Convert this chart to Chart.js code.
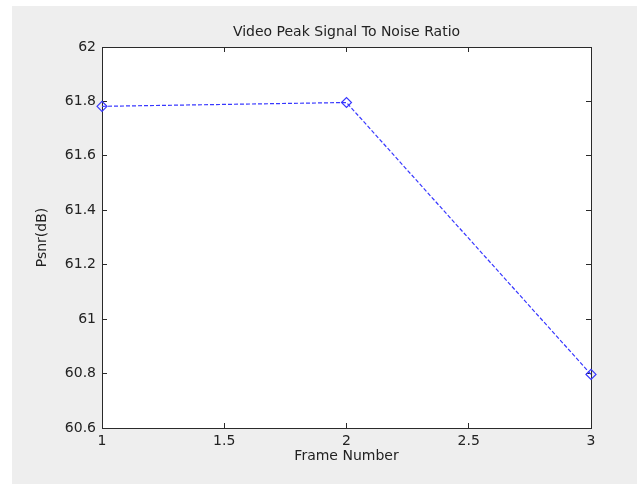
<!DOCTYPE html>
<html>
<head>
<meta charset="utf-8">
<script src="https://cdn.jsdelivr.net/npm/chart.js@4/dist/chart.umd.min.js"></script>
<style>
  html, body { margin: 0; padding: 0; background: #fff; }
  #wrap { position: relative; width: 637px; height: 484px; }
  #bg { position: absolute; left: 12px; top: 6px; width: 625px; height: 478px; background: #eeeeee; }
  #psnrChart { position: absolute; left: 0; top: 0; }
</style>
</head>
<body>
<div id="wrap">
  <div id="bg"></div>
  <canvas id="psnrChart" width="637" height="484"></canvas>
</div>
<script>
// dados
const frames = [1, 2, 3];
const psnr = [61.782, 61.796, 60.797];
const xTicks = { min: 1, max: 3, step: 0.5 };
const yTicks = { min: 60.6, max: 62, step: 0.2 };

const fonte = { family: '"DejaVu Sans", sans-serif', size: 14 };
const corTexto = '#222';
const corEixo = '#2a2a2a';
const azul = '#3838ff';

// fundo branco só na área do gráfico
const fundoArea = {
    id: 'fundoArea',
    beforeDraw(chart) {
        const { ctx, chartArea: a } = chart;
        ctx.save();
        ctx.fillStyle = '#ffffff';
        ctx.fillRect(a.left, a.top, a.right - a.left, a.bottom - a.top);
        ctx.restore();
    }
};

const fmt = v => String(+Number(v).toFixed(2));

const eixo = (pos, lim, extra) => Object.assign({
    type: 'linear',
    position: pos,
    min: lim.min,
    max: lim.max,
    grid: { drawOnChartArea: false, drawTicks: true, tickLength: -5, color: corEixo, lineWidth: 1 },
    border: { display: true, color: corEixo, width: 1 },
    ticks: { stepSize: lim.step, color: corTexto, font: fonte, callback: fmt, maxRotation: 0, autoSkip: false }
}, extra);

const ctx = document.getElementById('psnrChart').getContext('2d');
const grafico = new Chart(ctx, {
    type: 'line',
    data: {
        datasets: [{
            label: 'PSNR',
            data: frames.map((f, i) => ({ x: f, y: psnr[i] })),
            borderColor: azul,
            borderWidth: 1.2,
            borderDash: [4, 2],
            pointStyle: 'rectRot',
            pointRadius: 5,
            pointBorderColor: azul,
            pointBackgroundColor: 'rgba(0,0,0,0)',
            pointBorderWidth: 1.2,
            tension: 0,
            clip: false
        }]
    },
    options: {
        responsive: false,
        animation: false,
        layout: { padding: 0 },
        plugins: {
            legend: { display: false },
            tooltip: { enabled: false },
            title: { display: false }
        },
        scales: {
            x: eixo('bottom', xTicks, {
                afterFit: s => { s.height = 56; },
                ticks: { stepSize: xTicks.step, color: corTexto, font: fonte, callback: fmt, maxRotation: 0, autoSkip: false, padding: 10 },
                title: { display: true, text: 'Frame Number', color: corTexto, font: fonte, padding: { top: 0, bottom: 19 } }
            }),
            y: eixo('left', yTicks, {
                afterFit: s => { s.width = 102; },
                ticks: { stepSize: yTicks.step, color: corTexto, font: fonte, callback: fmt, autoSkip: false, padding: 11 },
                title: { display: true, text: 'Psnr(dB)', color: corTexto, font: fonte, padding: { top: 34, bottom: 0 } }
            }),
            x2: eixo('top', xTicks, {
                afterFit: s => { s.height = 47; },
                ticks: { stepSize: xTicks.step, display: false },
                title: { display: true, text: 'Video Peak Signal To Noise Ratio', color: corTexto, font: fonte, padding: { top: 24, bottom: 0 } }
            }),
            y2: eixo('right', yTicks, {
                afterFit: s => { s.width = 46; },
                ticks: { stepSize: yTicks.step, display: false }
            })
        }
    },
    plugins: [fundoArea]
});
</script>
</body>
</html>
